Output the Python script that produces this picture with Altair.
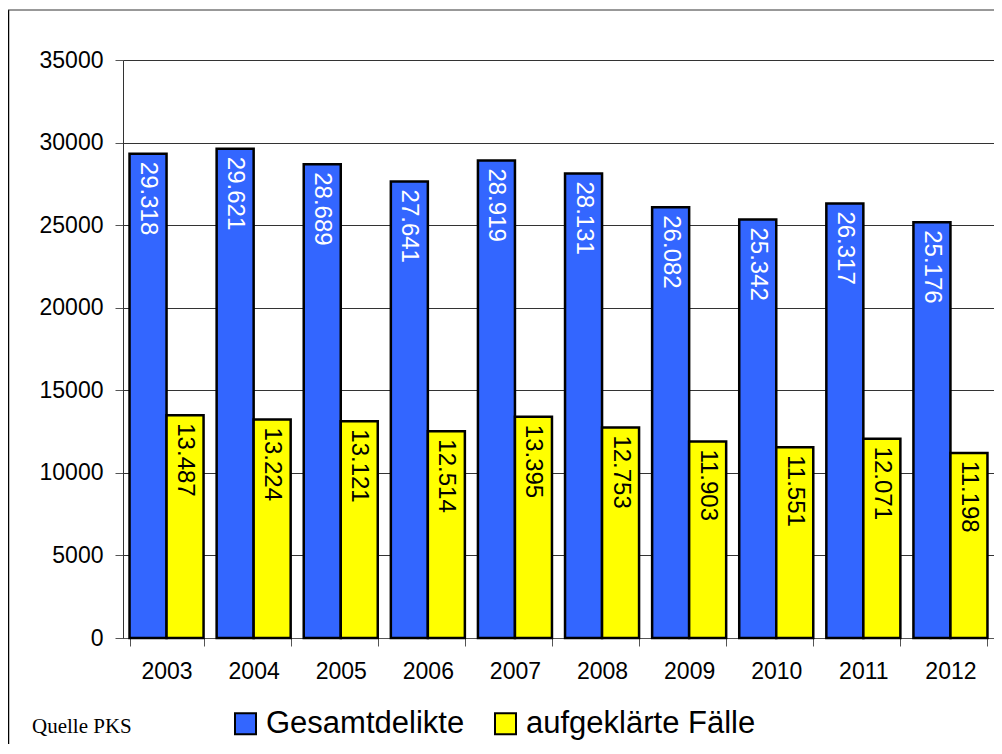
import altair as alt
import pandas as pd

years = ["2003", "2004", "2005", "2006", "2007", "2008", "2009", "2010", "2011", "2012"]
gesamt = [29318, 29621, 28689, 27641, 28919, 28131, 26082, 25342, 26317, 25176]
aufgeklaert = [13487, 13224, 13121, 12514, 13395, 12753, 11903, 11551, 12071, 11198]
series_names = ["Gesamtdelikte", "aufgeklärte Fälle"]
series_colors = ["#3366FF", "#FFFF00"]
y_ticks = [0, 5000, 10000, 15000, 20000, 25000, 30000, 35000]
source_note = ["Quelle PKS"]


def de_fmt(v):
    return f"{v:,}".replace(",", ".")


rows = []
for y, g, a in zip(years, gesamt, aufgeklaert):
    rows.append({"year": y, "series": series_names[0], "value": g, "label": de_fmt(g)})
    rows.append({"year": y, "series": series_names[1], "value": a, "label": de_fmt(a)})
df = pd.DataFrame(rows)

FONT = "Liberation Sans"

x_enc = alt.X(
    "year:N",
    title=None,
    sort=years,
    scale=alt.Scale(paddingInner=0.15, paddingOuter=0.075),
    axis=alt.Axis(
        labelAngle=0,
        labelFont=FONT,
        labelFontSize=23,
        labelColor="black",
        labelPadding=14,
        tickBand="extent",
        tickSize=8,
        tickColor="#555555",
        domainColor="#555555",
        grid=False,
    ),
)
xoff_enc = alt.XOffset("series:N", sort=series_names, scale=alt.Scale(domain=series_names, paddingInner=0, paddingOuter=0))
y_enc = alt.Y(
    "value:Q",
    title=None,
    scale=alt.Scale(domain=[0, 35000], nice=False),
    axis=alt.Axis(
        values=y_ticks,
        format="d",
        labelFont=FONT,
        labelFontSize=23,
        labelColor="black",
        labelPadding=12,
        tickSize=8,
        tickColor="#555555",
        domainColor="#333333",
        gridColor="#333333",
        gridWidth=1,
    ),
)

bars = alt.Chart(df).mark_bar(stroke="black", strokeWidth=2.5, strokeJoin="miter").encode(
    x=x_enc,
    xOffset=xoff_enc,
    y=y_enc,
    fill=alt.Fill(
        "series:N",
        sort=series_names,
        scale=alt.Scale(domain=series_names, range=series_colors),
        legend=alt.Legend(
            title=None,
            orient="none",
            legendX=107,
            legendY=648,
            direction="horizontal",
            symbolType="square",
            symbolSize=441,
            symbolStrokeColor="black",
            symbolStrokeWidth=2,
            symbolOpacity=1,
            labelFont=FONT,
            labelFontSize=31,
            labelColor="black",
            labelOffset=5,
            labelLimit=500,
            columnPadding=25,
        ),
    ),
)

labels = alt.Chart(df).mark_text(
    angle=90, align="left", baseline="middle", dx=8, font=FONT, fontSize=24
).encode(
    x=alt.X("year:N", sort=years),
    xOffset=alt.XOffset("series:N", sort=series_names),
    y=alt.Y("value:Q"),
    text="label:N",
    color=alt.condition(alt.datum.series == series_names[0], alt.value("white"), alt.value("black")),
)

frame_left = alt.Chart(pd.DataFrame({"k": [0]})).mark_rule(color="black", strokeWidth=1.5).encode(
    x=alt.value(-114.5), y=alt.value(-50), y2=alt.value(720)
)
frame_top = alt.Chart(pd.DataFrame({"k": [0]})).mark_rule(color="#333333", strokeWidth=1).encode(
    x=alt.value(-115), x2=alt.value(900), y=alt.value(-50)
)

note = alt.Chart(pd.DataFrame({"t": source_note})).mark_text(
    align="left", baseline="alphabetic", font="Liberation Serif", fontSize=21, color="black"
).encode(x=alt.value(-91), y=alt.value(673), text="t:N")

chart = (
    alt.layer(frame_left, frame_top, bars, labels, note)
    .properties(
        width=871,
        height=578,
        autosize=alt.AutoSizeParams(type="none"),
        padding={"left": 115, "top": 52, "right": 0, "bottom": 106},
    )
    .configure_view(stroke="#808080", strokeWidth=1.5)
    .configure(background="white")
)

chart.save("out.html", embed_options={"renderer": "svg", "actions": False})
